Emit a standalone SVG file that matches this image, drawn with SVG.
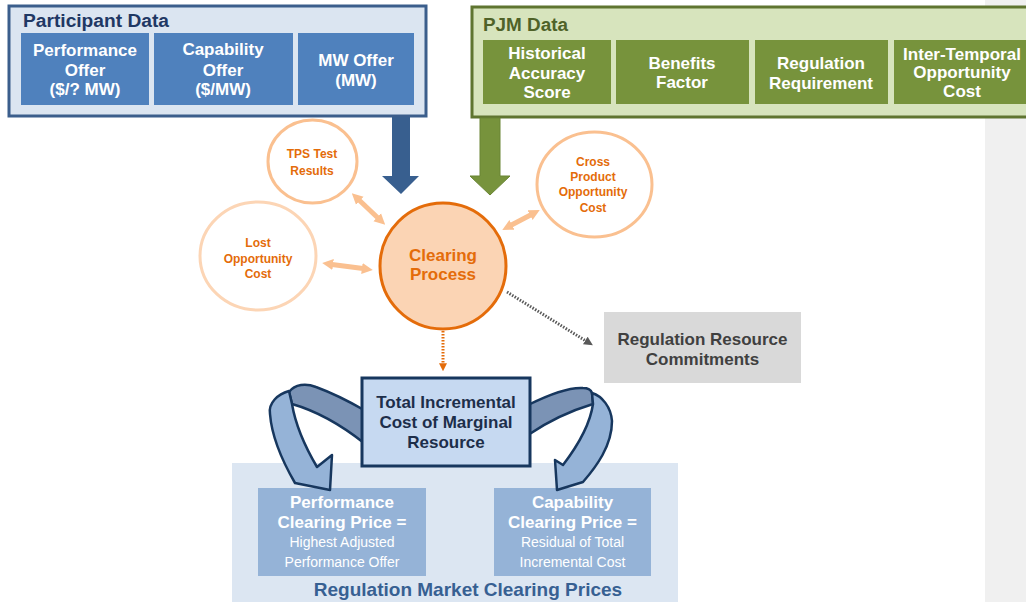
<svg xmlns="http://www.w3.org/2000/svg" width="1026" height="602" viewBox="0 0 1026 602">
<style>
text{font-family:"Liberation Sans",Arial,sans-serif;text-anchor:middle}
.b{font-weight:bold}
.w{fill:#ffffff;font-weight:bold;font-size:17px}
.pin{fill:#4f81bd}
.gin{fill:#77933c}
.sat{fill:#ffffff;stroke:#fac090;stroke-width:3}
.ot{fill:#e46c0a;font-weight:bold;font-size:12px}
.dbl{stroke:#fac090;stroke-width:5;fill:none;marker-start:url(#oh);marker-end:url(#oh)}
.price{fill:#95b3d7}
.pw{fill:#ffffff;font-size:14px}
.cur{stroke:#17375e;stroke-width:2.5;stroke-linejoin:round}
</style>
<defs>
<marker id="oh" viewBox="0 0 10 10" refX="1" refY="5" markerWidth="11" markerHeight="13" markerUnits="userSpaceOnUse" orient="auto-start-reverse">
<path d="M0,0 L10,5 L0,10 Z" fill="#fac090"/>
</marker>
<marker id="orh" viewBox="0 0 10 10" refX="1" refY="5" markerWidth="8" markerHeight="9" markerUnits="userSpaceOnUse" orient="auto">
<path d="M0,0 L10,5 L0,10 Z" fill="#e46c0a"/>
</marker>
<marker id="grh" viewBox="0 0 10 10" refX="1" refY="5" markerWidth="9" markerHeight="10" markerUnits="userSpaceOnUse" orient="auto">
<path d="M0,0 L10,5 L0,10 Z" fill="#595959"/>
</marker>
</defs>
<rect x="0" y="0" width="1026" height="602" fill="#ffffff"/>
<rect x="985" y="0" width="41" height="602" fill="#f0f0f0"/>

<g id="participant-data">
<rect x="9" y="6" width="417" height="110" fill="#dbe5f1" stroke="#3b5e8c" stroke-width="3"/>
<text x="23" y="27" class="b" font-size="18" fill="#1f3864" style="text-anchor:start" textLength="146" lengthAdjust="spacingAndGlyphs">Participant Data</text>
<rect x="21" y="33" width="128" height="72" class="pin"/>
<rect x="154" y="33" width="139" height="72" class="pin"/>
<rect x="298" y="33" width="116" height="72" class="pin"/>
<text class="w" x="85" y="56">Performance</text>
<text class="w" x="85" y="76">Offer</text>
<text class="w" x="85" y="95">($/? MW)</text>
<text class="w" x="223" y="55">Capability</text>
<text class="w" x="223" y="76">Offer</text>
<text class="w" x="223" y="95">($/MW)</text>
<text class="w" x="356" y="66">MW Offer</text>
<text class="w" x="356" y="86">(MW)</text>
</g>

<g id="pjm-data">
<rect x="472" y="7" width="570" height="110" fill="#d7e4bd" stroke="#5f7530" stroke-width="3"/>
<text x="483" y="31" class="b" font-size="18" fill="#4f6228" style="text-anchor:start" textLength="85" lengthAdjust="spacingAndGlyphs">PJM Data</text>
<rect x="483" y="40" width="128" height="64" class="gin"/>
<rect x="616" y="40" width="133" height="64" class="gin"/>
<rect x="755" y="40" width="133" height="64" class="gin"/>
<rect x="894" y="40" width="140" height="64" class="gin"/>
<text class="w" x="547" y="59">Historical</text>
<text class="w" x="547" y="79">Accuracy</text>
<text class="w" x="547" y="98">Score</text>
<text class="w" x="682" y="69">Benefits</text>
<text class="w" x="682" y="88">Factor</text>
<text class="w" x="821" y="69">Regulation</text>
<text class="w" x="821" y="89">Requirement</text>
<text class="w" x="962" y="60">Inter-Temporal</text>
<text class="w" x="962" y="78">Opportunity</text>
<text class="w" x="962" y="97">Cost</text>
</g>

<g id="connectors">
<polygon points="392,117 410,117 410,176 419,176 401,194 382,176 392,176" fill="#385f8f"/>
<polygon points="480,118 500,118 500,176 510,176 490,195 470,176 480,176" fill="#77933c" stroke="#6a8535" stroke-width="1"/>
<line class="dbl" x1="359" y1="200" x2="378" y2="218"/>
<line class="dbl" x1="332" y1="264.4" x2="363" y2="268.6"/>
<line class="dbl" x1="511" y1="225.3" x2="531" y2="214.7"/>
<line x1="443" y1="328" x2="443" y2="364" stroke="#e46c0a" stroke-width="3" stroke-dasharray="1.5 1.5" marker-end="url(#orh)"/>
<line x1="507" y1="292" x2="586" y2="341" stroke="#595959" stroke-width="3" stroke-dasharray="1.5 1.5" marker-end="url(#grh)"/>
</g>

<g id="tps-test-results">
<ellipse cx="312.5" cy="161.5" rx="44.5" ry="41.5" class="sat"/>
<text class="ot" x="312" y="158">TPS Test</text>
<text class="ot" x="312" y="175">Results</text>
</g>
<g id="lost-opportunity-cost">
<ellipse cx="258" cy="256" rx="58" ry="54" fill="#ffffff" stroke="#fcd5b5" stroke-width="3"/>
<text class="ot" x="258" y="247">Lost</text>
<text class="ot" x="258" y="263">Opportunity</text>
<text class="ot" x="258" y="278">Cost</text>
</g>
<g id="cross-product-opportunity-cost">
<ellipse cx="594.5" cy="184.5" rx="57.5" ry="52.5" class="sat"/>
<text class="ot" x="593" y="166">Cross</text>
<text class="ot" x="593" y="181">Product</text>
<text class="ot" x="593" y="196">Opportunity</text>
<text class="ot" x="593" y="212">Cost</text>
</g>
<g id="clearing-process">
<circle cx="443" cy="266" r="63" fill="#fbd4b4" stroke="#e46c0a" stroke-width="3"/>
<text x="443" y="261" class="b" font-size="17" fill="#e46c0a">Clearing</text>
<text x="443" y="280" class="b" font-size="17" fill="#e46c0a">Process</text>
</g>

<g id="regulation-resource-commitments">
<rect x="604" y="312" width="197" height="71" fill="#d9d9d9"/>
<text x="702.5" y="345" class="b" font-size="17" fill="#404040">Regulation Resource</text>
<text x="702.5" y="365" class="b" font-size="17" fill="#404040">Commitments</text>
</g>

<g id="regulation-market-clearing-prices">
<rect x="232" y="463" width="446" height="139" fill="#dce6f2"/>
<text x="468" y="596" class="b" font-size="19" fill="#376092">Regulation Market Clearing Prices</text>
</g>
<g id="performance-clearing-price">
<rect x="258" y="488" width="168" height="88" class="price"/>
<text class="w" x="342" y="508">Performance</text>
<text class="w" x="342" y="528">Clearing Price =</text>
<text class="pw" x="342" y="547">Highest Adjusted</text>
<text class="pw" x="342" y="567">Performance Offer</text>
</g>
<g id="capability-clearing-price">
<rect x="494" y="488" width="157" height="88" class="price"/>
<text class="w" x="572.5" y="508">Capability</text>
<text class="w" x="572.5" y="528">Clearing Price =</text>
<text class="pw" x="572.5" y="547">Residual of Total</text>
<text class="pw" x="572.5" y="567">Incremental Cost</text>
</g>

<g id="curved-arrows">
<path class="cur" fill="#7b93b5" d="M289 392 C295 384 306 383 316 387 C335 394 350 402 364 410 L364 443 C345 428 320 412 292 404 Z"/>
<path class="cur" fill="#95b3d7" d="M292 404 L289 391 C278 394 268 403 270 414 C272 440 284 464 295 483 L330 490 L332 455 L317 467 C307 450 296 428 292 404 Z"/>
<path class="cur" fill="#7b93b5" d="M528 405 C548 395 568 387 583 388 C588 388 591 390 592 393 L593 404 C573 410 550 420 528 435 Z"/>
<path class="cur" fill="#95b3d7" d="M592 393 C602 396 611 407 612 421 C612 446 596 467 583 482 L557 490 L555 460 L563 465 C576 448 590 425 593 404 Z"/>
</g>

<g id="total-incremental-cost">
<rect x="362" y="378" width="168" height="88" fill="#c6d9f1" stroke="#17375e" stroke-width="3"/>
<text x="446" y="408" class="b" font-size="17" fill="#1d2e4a">Total Incremental</text>
<text x="446" y="428" class="b" font-size="17" fill="#1d2e4a">Cost of Marginal</text>
<text x="446" y="448" class="b" font-size="17" fill="#1d2e4a">Resource</text>
</g>
</svg>
